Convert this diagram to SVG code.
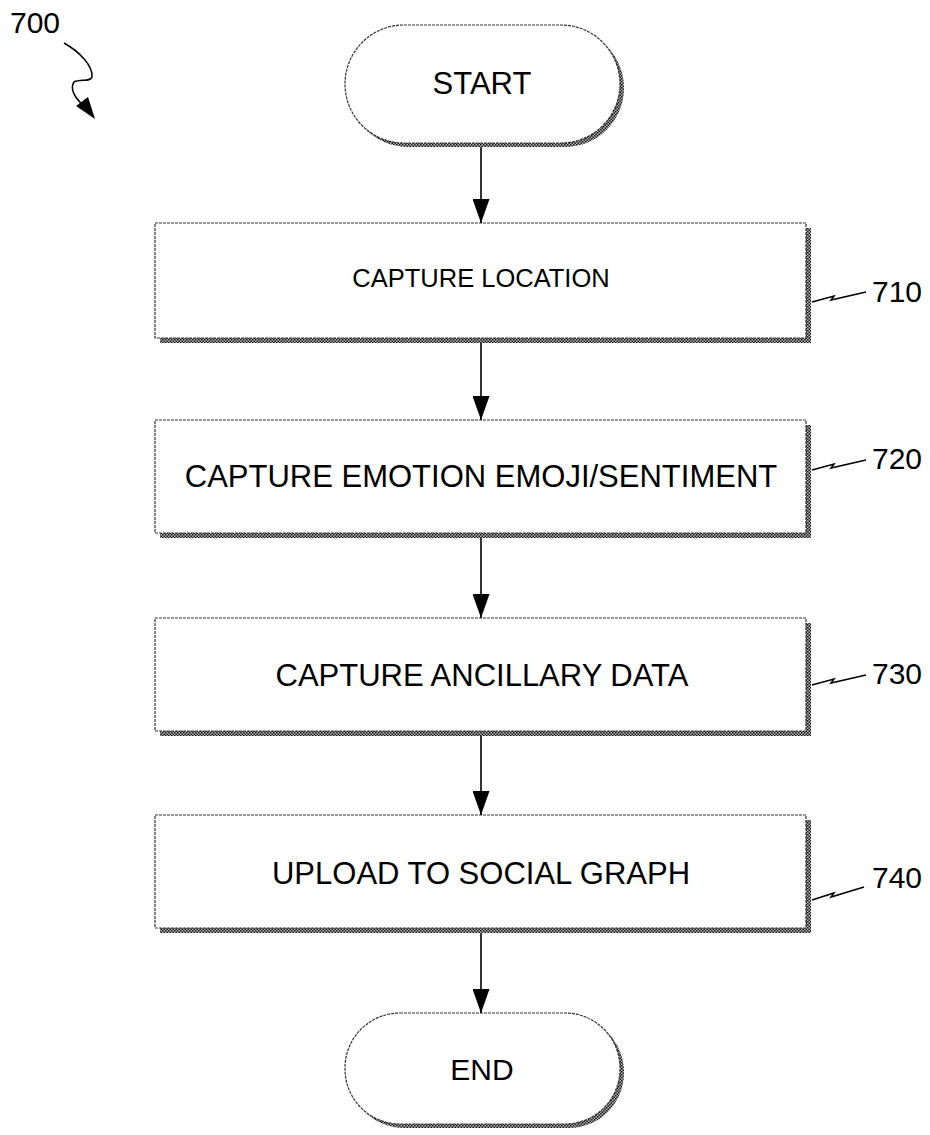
<svg xmlns="http://www.w3.org/2000/svg" width="930" height="1135" viewBox="0 0 930 1135">
  <defs>
    <pattern id="hatch" width="3" height="3" patternUnits="userSpaceOnUse">
      <rect width="3" height="3" fill="#bbbbbb"/>
      <rect width="1.5" height="1.5" fill="#111"/>
      <rect x="1.5" y="1.5" width="1.5" height="1.5" fill="#111"/>
    </pattern>
    <marker id="arrow" markerWidth="24" markerHeight="17" refX="24" refY="8.5" orient="auto" markerUnits="userSpaceOnUse" viewBox="0 0 24 17">
      <path d="M0,0 L24,8.5 L0,17 Z" fill="#000"/>
    </marker>
  </defs>
  <style>
    .shadow { fill: url(#hatch); stroke: none; }
    .box { fill: #ffffff; stroke: #333; stroke-width: 1.2; stroke-dasharray: 3 1; }
    .lbl { font-family: "Liberation Sans", Arial, sans-serif; fill: #000; text-anchor: middle; }
    .ref { font-family: "Liberation Sans", Arial, sans-serif; fill: #000; font-size: 30px; }
    .conn { stroke: #000; stroke-width: 1.6; fill: none; }
    .lead { stroke: #000; stroke-width: 1.5; fill: none; }
  </style>

  <g id="fig-label">
    <text class="ref" x="10" y="33">700</text>
    <path class="lead" d="M64,43 C80,52 93,66 92,77 C91,82 80,79 74,82 C70,88 74,97 82,104"/>
    <path d="M76,106 L88,97 L95,119 Z" fill="#000"/>
  </g>

  <g id="start">
    <rect class="shadow" x="349" y="29" width="275" height="118" rx="59" ry="59"/>
    <rect class="box" x="345" y="25" width="275" height="118" rx="59" ry="59"/>
    <text class="lbl" x="482" y="94" font-size="31">START</text>
  </g>

  <g id="n710">
    <rect class="shadow" x="160" y="228" width="651" height="115"/>
    <rect class="box" x="155" y="223" width="651" height="115"/>
    <text class="lbl" x="481" y="287" font-size="25.5">CAPTURE LOCATION</text>
    <path class="lead" d="M812,302 L834,296 L831,300 L866,292"/>
    <text class="ref" x="872" y="302">710</text>
  </g>

  <g id="n720">
    <rect class="shadow" x="160" y="425" width="651" height="113"/>
    <rect class="box" x="155" y="420" width="651" height="113"/>
    <text class="lbl" x="481" y="487" font-size="31">CAPTURE EMOTION EMOJI/SENTIMENT</text>
    <path class="lead" d="M812,470 L834,464 L831,468 L866,460"/>
    <text class="ref" x="872" y="469">720</text>
  </g>

  <g id="n730">
    <rect class="shadow" x="160" y="623" width="651" height="113"/>
    <rect class="box" x="155" y="618" width="651" height="113"/>
    <text class="lbl" x="482" y="686" font-size="31">CAPTURE ANCILLARY DATA</text>
    <path class="lead" d="M812,685 L834,679 L831,683 L866,675"/>
    <text class="ref" x="872" y="684">730</text>
  </g>

  <g id="n740">
    <rect class="shadow" x="160" y="820" width="651" height="113"/>
    <rect class="box" x="155" y="815" width="651" height="113"/>
    <text class="lbl" x="481" y="884" font-size="31">UPLOAD TO SOCIAL GRAPH</text>
    <path class="lead" d="M812,900 L834,893 L831,897 L864,887"/>
    <text class="ref" x="872" y="888">740</text>
  </g>

  <g id="end">
    <rect class="shadow" x="349" y="1017" width="275" height="111" rx="55" ry="55"/>
    <rect class="box" x="345" y="1013" width="275" height="111" rx="55" ry="55"/>
    <text class="lbl" x="482" y="1080" font-size="30">END</text>
  </g>

  <g id="connectors">
    <line class="conn" x1="481" y1="147" x2="481" y2="223" marker-end="url(#arrow)"/>
    <line class="conn" x1="481" y1="343" x2="481" y2="420" marker-end="url(#arrow)"/>
    <line class="conn" x1="481" y1="538" x2="481" y2="618" marker-end="url(#arrow)"/>
    <line class="conn" x1="481" y1="736" x2="481" y2="815" marker-end="url(#arrow)"/>
    <line class="conn" x1="481" y1="933" x2="481" y2="1013" marker-end="url(#arrow)"/>
  </g>
</svg>
